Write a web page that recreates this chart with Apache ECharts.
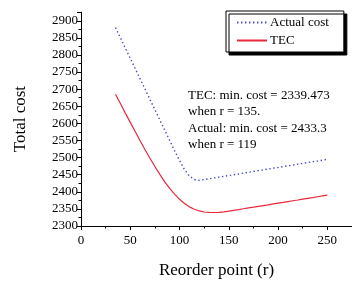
<!DOCTYPE html>
<html>
<head>
<meta charset="utf-8">
<script src="https://cdn.jsdelivr.net/npm/echarts@6/dist/echarts.min.js"></script>
<style>
  html, body { margin: 0; padding: 0; background: #fff; }
  #chart { width: 352px; height: 284px; }
</style>
</head>
<body>
<div id="chart"></div>
<script>
// reorder point r, shared by both curves
var rVals = [35, 40, 45, 50, 55, 60, 65, 70, 75, 80, 85, 90, 95, 100, 105, 110, 115, 120,
  125, 130, 135, 140, 145, 150, 155, 160, 165, 170, 175, 180, 185, 190, 195, 200,
  205, 210, 215, 220, 225, 230, 235, 240, 245, 250];

var actualCost = [2880, 2850, 2820, 2790, 2760, 2730, 2700, 2670, 2640, 2610, 2580, 2550, 2520, 2491,
  2465, 2446, 2436, 2433.5, 2436, 2438, 2440.5, 2443, 2445, 2447.5, 2450, 2452, 2455, 2457,
  2459.5, 2462, 2464, 2466.5, 2469, 2471, 2473.5, 2476, 2478, 2481, 2483, 2485.5, 2488,
  2490, 2492.5, 2495];

var tecCost = [2685, 2658, 2630, 2603, 2576, 2549, 2523, 2498, 2474, 2451, 2429, 2410, 2393, 2378,
  2366, 2356, 2349, 2344, 2341, 2339.7, 2339.5, 2340, 2341.5, 2343.5, 2345.8, 2348, 2350.5,
  2352.8, 2355, 2357.5, 2359.8, 2362, 2364.5, 2366.8, 2369, 2371.5, 2373.8, 2376, 2378.5,
  2380.8, 2383, 2385.5, 2387.8, 2390];

var noteLines = [
  'TEC: min. cost = 2339.473',
  'when r = 135.',
  'Actual: min. cost = 2433.3',
  'when r = 119'
];

var font = 'Liberation Serif, Times New Roman, serif';

function pairs(xs, ys) {
  return xs.map(function (x, i) { return [x, ys[i]]; });
}

var myChart = echarts.init(document.getElementById('chart'));

var option = {
  animation: false,
  textStyle: { fontFamily: font, color: '#000' },
  grid: { left: 81, top: 12.2, width: 277.2, height: 220.8 },
  legend: {
    orient: 'vertical',
    left: 226,
    top: 11,
    itemWidth: 30,
    itemHeight: 12,
    itemGap: 5,
    padding: [5, 15, 5, 10],
    backgroundColor: '#fff',
    borderColor: '#000',
    borderWidth: 1,
    shadowColor: '#000',
    shadowOffsetX: 3,
    shadowOffsetY: 3,
    shadowBlur: 0,
    itemStyle: { opacity: 0 },
    textStyle: { fontFamily: font, fontSize: 13, color: '#000', padding: [0, 0, 0, -2] },
    data: ['Actual cost', 'TEC']
  },
  xAxis: {
    type: 'value',
    min: 0,
    max: 275,
    interval: 50,
    name: 'Reorder point (r)',
    nameLocation: 'middle',
    nameGap: 36,
    nameTextStyle: { fontFamily: font, fontSize: 17, color: '#000' },
    axisLine: { lineStyle: { color: '#000', width: 1 } },
    axisTick: { length: 4, lineStyle: { color: '#000' } },
    minorTick: { show: true, splitNumber: 2, length: 2.5, lineStyle: { color: '#000' } },
    axisLabel: { fontFamily: font, fontSize: 13, color: '#000', margin: 8, showMaxLabel: false },
    splitLine: { show: false }
  },
  yAxis: {
    type: 'value',
    min: 2300,
    max: 2925,
    interval: 50,
    name: 'Total cost',
    nameLocation: 'middle',
    nameGap: 52,
    nameTextStyle: { fontFamily: font, fontSize: 17, color: '#000' },
    axisLine: { show: true, lineStyle: { color: '#000', width: 1 } },
    axisTick: { length: 4, lineStyle: { color: '#000' } },
    minorTick: { show: true, splitNumber: 2, length: 2.5, lineStyle: { color: '#000' } },
    axisLabel: {
      fontFamily: font, fontSize: 13, color: '#000', margin: 3, showMaxLabel: false,
      formatter: function (v) { return String(v); }
    },
    splitLine: { show: false }
  },
  graphic: [{
    type: 'text',
    left: 188,
    top: 87,
    style: {
      text: noteLines.join('\n'),
      font: '13px ' + font,
      fill: '#000',
      lineHeight: 16.5
    }
  }],
  series: [
    {
      name: 'Actual cost',
      type: 'line',
      symbol: 'none',
      color: '#4848c4',
      lineStyle: { color: '#4848c4', width: 1.4, type: [1.4, 2.6] },
      data: pairs(rVals, actualCost)
    },
    {
      name: 'TEC',
      type: 'line',
      symbol: 'none',
      color: '#e8283a',
      lineStyle: { color: '#e8283a', width: 1.2 },
      data: pairs(rVals, tecCost)
    }
  ]
};

myChart.setOption(option);
</script>
</body>
</html>
